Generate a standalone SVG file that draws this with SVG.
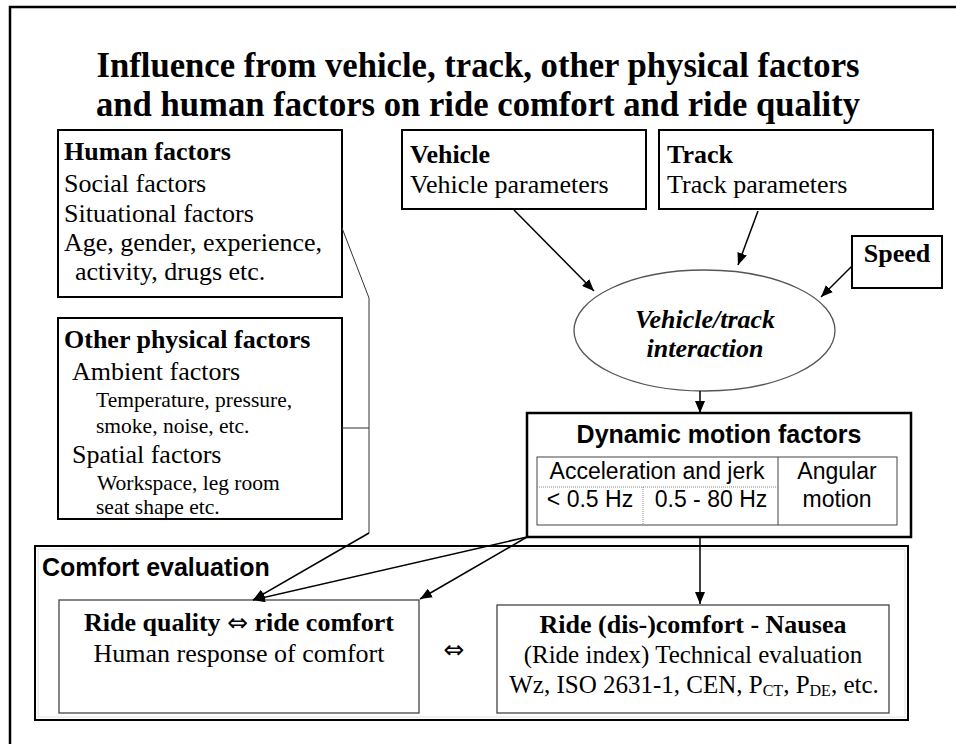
<svg xmlns="http://www.w3.org/2000/svg" width="956" height="744" viewBox="0 0 956 744">
<defs>
<style>
.serif{font-family:"Liberation Serif","Times New Roman",serif;fill:#000}
.sans{font-family:"Liberation Sans",Arial,sans-serif;fill:#000}
.sym{font-family:"DejaVu Sans",sans-serif;font-weight:normal}
.b{font-weight:bold}
.box{fill:#fff;stroke:#000;stroke-width:2}
.inner{fill:#fff;stroke:#444;stroke-width:1.3}
.conn{fill:none;stroke:#000;stroke-width:1.5}
.thin{fill:none;stroke:#333;stroke-width:1}
.dot{stroke:#888;stroke-width:1;stroke-dasharray:1 1}
.t26{font-size:26px}
.t21{font-size:21.5px}
</style>
<marker id="ah" viewBox="0 0 12 10" refX="12" refY="5" markerWidth="12" markerHeight="10" markerUnits="userSpaceOnUse" orient="auto">
<path d="M0,0 L12,5 L0,10 z" fill="#000"/>
</marker>
</defs>
<rect width="956" height="744" fill="#fff"/>
<path d="M10,744 V7 H956" fill="none" stroke="#000" stroke-width="2.5"/>

<g id="title">
<text class="serif b" x="478" y="77" font-size="35" text-anchor="middle" textLength="763" lengthAdjust="spacingAndGlyphs">Influence from vehicle, track, other physical factors</text>
<text class="serif b" x="478" y="116" font-size="35" text-anchor="middle" textLength="764" lengthAdjust="spacingAndGlyphs">and human factors on ride comfort and ride quality</text>
</g>

<g id="human-factors">
<rect class="box" x="58" y="130" width="284" height="167"/>
<text class="serif b t26" x="64" y="160">Human factors</text>
<text class="serif t26" x="64" y="192">Social factors</text>
<text class="serif t26" x="64" y="222">Situational factors</text>
<text class="serif t26" x="64" y="251">Age, gender, experience,</text>
<text class="serif t26" x="75" y="280">activity, drugs etc.</text>
</g>

<g id="other-physical-factors">
<rect class="box" x="58" y="318" width="284" height="201"/>
<text class="serif b t26" x="64" y="348">Other physical factors</text>
<text class="serif t26" x="72" y="380">Ambient factors</text>
<text class="serif t21" x="96" y="407">Temperature, pressure,</text>
<text class="serif t21" x="96" y="433">smoke, noise, etc.</text>
<text class="serif t26" x="72" y="463">Spatial factors</text>
<text class="serif t21" x="97" y="490">Workspace, leg room</text>
<text class="serif t21" x="96" y="514">seat shape etc.</text>
</g>

<g id="vehicle">
<rect class="box" x="402" y="130" width="244" height="79"/>
<text class="serif b t26" x="410" y="163">Vehicle</text>
<text class="serif t26" x="410" y="193">Vehicle parameters</text>
</g>

<g id="track">
<rect class="box" x="659" y="130" width="274" height="79"/>
<text class="serif b t26" x="667" y="163">Track</text>
<text class="serif t26" x="667" y="193">Track parameters</text>
</g>

<g id="speed">
<rect class="box" x="852" y="236" width="90" height="52"/>
<text class="serif b t26" x="897" y="262" text-anchor="middle">Speed</text>
</g>

<g id="interaction">
<ellipse cx="704.5" cy="330.5" rx="130.5" ry="60.5" fill="#fff" stroke="#555" stroke-width="1.3"/>
<text class="serif b t26" x="705" y="328" text-anchor="middle" font-style="italic">Vehicle/track</text>
<text class="serif b t26" x="705" y="357" text-anchor="middle" font-style="italic">interaction</text>
</g>

<g id="dynamic-motion-factors">
<rect x="527" y="413" width="384" height="124" fill="#fff" stroke="#000" stroke-width="2.5"/>
<text class="sans b" x="719" y="443" font-size="25" text-anchor="middle">Dynamic motion factors</text>
<rect x="537" y="457" width="360" height="68" fill="none" stroke="#444" stroke-width="1"/>
<line x1="778" y1="457" x2="778" y2="525" stroke="#444" stroke-width="1"/>
<line class="dot" x1="537" y1="487" x2="778" y2="487"/>
<line class="dot" x1="643" y1="487" x2="643" y2="525"/>
<text class="sans" x="657" y="479" font-size="23" text-anchor="middle">Acceleration and jerk</text>
<text class="sans" x="590" y="507" font-size="23" text-anchor="middle">&lt; 0.5 Hz</text>
<text class="sans" x="711" y="507" font-size="23" text-anchor="middle">0.5 - 80 Hz</text>
<text class="sans" x="837" y="479" font-size="23" text-anchor="middle">Angular</text>
<text class="sans" x="837" y="507" font-size="23" text-anchor="middle">motion</text>
</g>

<g id="comfort-evaluation">
<rect class="box" x="35" y="546" width="873" height="174"/>
<rect x="38" y="549" width="867" height="168" fill="none" stroke="#e2e2e2" stroke-width="1"/>
<text class="sans b" x="42" y="576" font-size="25">Comfort evaluation</text>
<text class="sym" x="454" y="658" font-size="25" text-anchor="middle">⇔</text>
</g>

<g id="ride-quality">
<rect class="inner" x="59" y="600" width="360" height="113"/>
<text class="serif b t26" x="239" y="631" text-anchor="middle">Ride quality <tspan class="sym" font-size="25">⇔</tspan> ride comfort</text>
<text class="serif t26" x="239" y="662" text-anchor="middle">Human response of comfort</text>
</g>

<g id="ride-discomfort">
<rect class="inner" x="497" y="605" width="392" height="108"/>
<text class="serif b t26" x="693" y="633" text-anchor="middle">Ride (dis-)comfort - Nausea</text>
<text class="serif" x="693" y="663" font-size="25" text-anchor="middle">(Ride index) Technical evaluation</text>
<text class="serif" x="694" y="693" font-size="25" text-anchor="middle">Wz, ISO 2631-1, CEN, P<tspan font-size="16" dy="3">CT</tspan><tspan dy="-3">, P</tspan><tspan font-size="16" dy="3">DE</tspan><tspan dy="-3">, etc.</tspan></text>
</g>

<g id="connectors">
<line class="conn" x1="514" y1="210" x2="594" y2="291" marker-end="url(#ah)"/>
<line class="conn" x1="758" y1="211" x2="738" y2="265" marker-end="url(#ah)"/>
<line class="conn" x1="852" y1="266" x2="821" y2="297" marker-end="url(#ah)"/>
<line class="conn" x1="700" y1="391" x2="700" y2="413" marker-end="url(#ah)"/>
<line class="conn" x1="700" y1="538" x2="700" y2="604" marker-end="url(#ah)"/>
<line class="conn" x1="527" y1="537" x2="253" y2="600" marker-end="url(#ah)"/>
<line class="conn" x1="527" y1="537" x2="420" y2="599" marker-end="url(#ah)"/>
<polyline class="thin" points="342,228 369,298 369,533"/>
<line class="thin" x1="342" y1="428" x2="369" y2="428"/>
<line class="conn" x1="369" y1="533" x2="253" y2="600" marker-end="url(#ah)"/>
</g>
</svg>
